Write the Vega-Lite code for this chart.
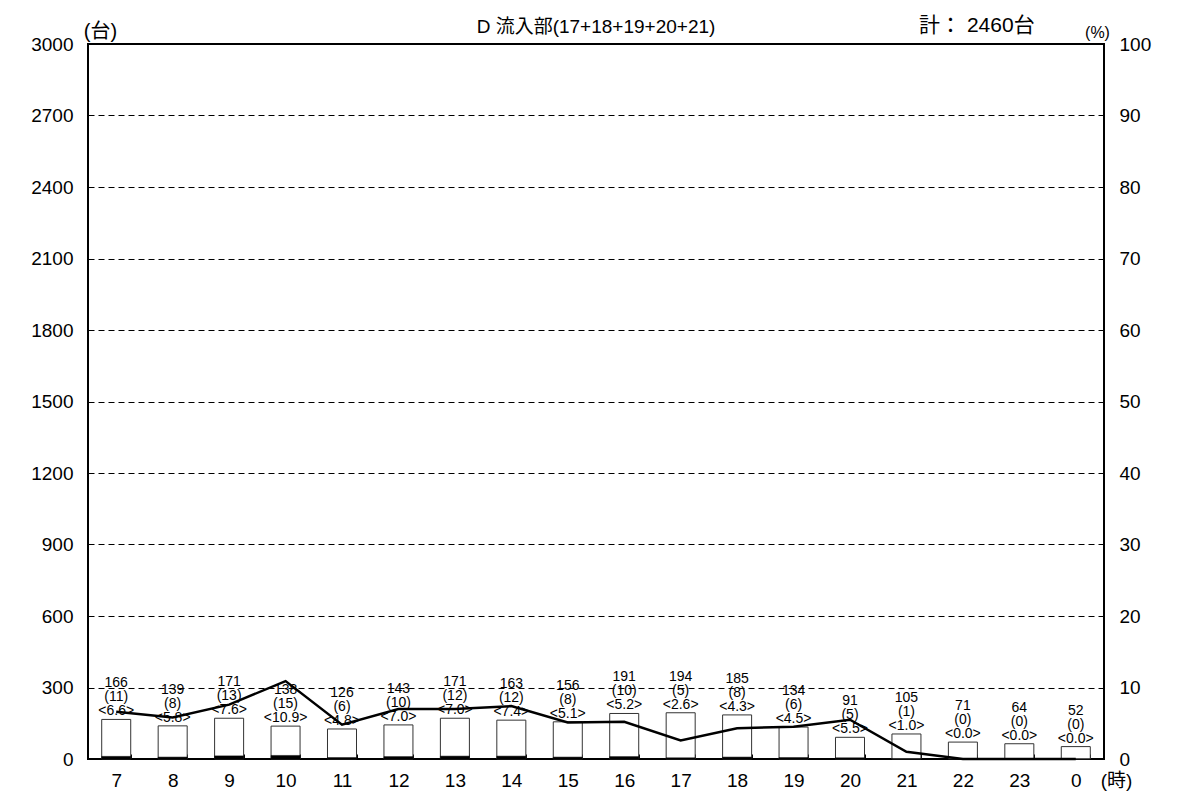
{
  "$schema": "https://vega.github.io/schema/vega-lite/v6.json",
  "width": 1016,
  "height": 715,
  "autosize": "none",
  "padding": {"left": 88, "top": 44, "right": 77, "bottom": 52},
  "background": "white",
  "title": {
    "text": "D 流入部(17+18+19+20+21)",
    "frame": "group",
    "anchor": "middle",
    "offset": -22,
    "fontSize": 19,
    "fontWeight": "normal",
    "color": "black",
    "font": "Liberation Sans, Noto Sans CJK JP"
  },
  "data": {
    "values": [
      {"hour": "7", "total": 166, "large": 11, "pct": 6.6},
      {"hour": "8", "total": 139, "large": 8, "pct": 5.8},
      {"hour": "9", "total": 171, "large": 13, "pct": 7.6},
      {"hour": "10", "total": 138, "large": 15, "pct": 10.9},
      {"hour": "11", "total": 126, "large": 6, "pct": 4.8},
      {"hour": "12", "total": 143, "large": 10, "pct": 7.0},
      {"hour": "13", "total": 171, "large": 12, "pct": 7.0},
      {"hour": "14", "total": 163, "large": 12, "pct": 7.4},
      {"hour": "15", "total": 156, "large": 8, "pct": 5.1},
      {"hour": "16", "total": 191, "large": 10, "pct": 5.2},
      {"hour": "17", "total": 194, "large": 5, "pct": 2.6},
      {"hour": "18", "total": 185, "large": 8, "pct": 4.3},
      {"hour": "19", "total": 134, "large": 6, "pct": 4.5},
      {"hour": "20", "total": 91, "large": 5, "pct": 5.5},
      {"hour": "21", "total": 105, "large": 1, "pct": 1.0},
      {"hour": "22", "total": 71, "large": 0, "pct": 0.0},
      {"hour": "23", "total": 64, "large": 0, "pct": 0.0},
      {"hour": "0", "total": 52, "large": 0, "pct": 0.0}
    ]
  },
  "encoding": {
    "x": {
      "field": "hour",
      "type": "nominal",
      "sort": ["7","8","9","10","11","12","13","14","15","16","17","18","19","20","21","22","23","0"],
      "scale": {"paddingInner": 0.486, "paddingOuter": 0.243},
      "axis": {
        "orient": "bottom",
        "title": "(時)",
        "titleX": 1028,
        "titleY": 21,
        "titleAngle": 0,
        "titleAlign": "center",
        "titleBaseline": "middle",
        "titleFontSize": 19,
        "titleFontWeight": "normal",
        "labelAngle": 0,
        "labelFontSize": 19,
        "labelPadding": 17,
        "domain": false,
        "ticks": true,
        "tickBand": "extent",
        "tickSize": -5,
        "tickColor": "black",
        "tickWidth": 1,
        "grid": false
      }
    }
  },
  "layer": [
    {
      "mark": {"type": "bar", "fill": "white", "stroke": "#333", "strokeWidth": 1},
      "encoding": {
        "y": {
          "field": "total",
          "type": "quantitative",
          "scale": {"domain": [0, 3000], "nice": false},
          "axis": {
            "orient": "left",
            "values": [0,300,600,900,1200,1500,1800,2100,2400,2700,3000],
            "format": "d",
            "title": "(台)",
            "titleX": 12,
            "titleY": -13,
            "titleAngle": 0,
            "titleAlign": "center",
            "titleBaseline": "middle",
            "titleFontSize": 20,
            "titleFontWeight": "normal",
            "labelFontSize": 19,
            "labelPadding": 15,
            "domain": false,
            "ticks": false,
            "grid": true,
            "gridColor": "black",
            "gridDash": [6, 4],
            "gridWidth": 1,
            "gridOpacity": 1
          }
        }
      }
    },
    {
      "mark": {"type": "bar", "fill": "black", "stroke": "black", "strokeWidth": 0.5},
      "encoding": {
        "y": {"field": "large", "type": "quantitative", "scale": {"domain": [0, 3000], "nice": false}, "axis": null}
      }
    },
    {
      "mark": {
        "type": "text",
        "baseline": "bottom",
        "align": "center",
        "dy": -29,
        "fontSize": 14,
        "lineHeight": 14,
        "color": "black",
        "text": {"expr": "[format(datum.total, 'd'), '(' + format(datum.large, 'd') + ')', '<' + format(datum.pct, '.1f') + '>']"}
      },
      "encoding": {
        "y": {"field": "total", "type": "quantitative", "scale": {"domain": [0, 3000], "nice": false}, "axis": null}
      }
    },
    {
      "transform": [{"filter": "datum.hour == '22'"}],
      "mark": {
        "type": "text",
        "text": "計： 2460台",
        "baseline": "middle",
        "align": "center",
        "dx": 14,
        "dy": -18,
        "fontSize": 21,
        "color": "black"
      },
      "encoding": {
        "y": {"datum": 3000, "type": "quantitative", "scale": {"domain": [0, 3000], "nice": false}, "axis": null}
      }
    },
    {
      "mark": {"type": "line", "color": "black", "strokeWidth": 2.5},
      "encoding": {
        "y": {
          "field": "pct",
          "type": "quantitative",
          "scale": {"domain": [0, 100], "nice": false},
          "axis": {
            "orient": "right",
            "values": [0,10,20,30,40,50,60,70,80,90,100],
            "title": "(%)",
            "titleX": -7,
            "titleY": -12,
            "titleAngle": 0,
            "titleAlign": "center",
            "titleBaseline": "middle",
            "titleFontSize": 16,
            "titleFontWeight": "normal",
            "labelFontSize": 19,
            "labelPadding": 15,
            "domain": false,
            "ticks": false,
            "grid": false
          }
        }
      }
    }
  ],
  "resolve": {"scale": {"y": "independent"}},
  "config": {
    "font": "Liberation Sans, Noto Sans CJK JP",
    "view": {"stroke": "black", "strokeWidth": 2},
    "axis": {"labelColor": "black", "titleColor": "black", "labelFont": "Liberation Sans, Noto Sans CJK JP", "titleFont": "Liberation Sans, Noto Sans CJK JP"},
    "text": {"font": "Liberation Sans, Noto Sans CJK JP"}
  }
}
